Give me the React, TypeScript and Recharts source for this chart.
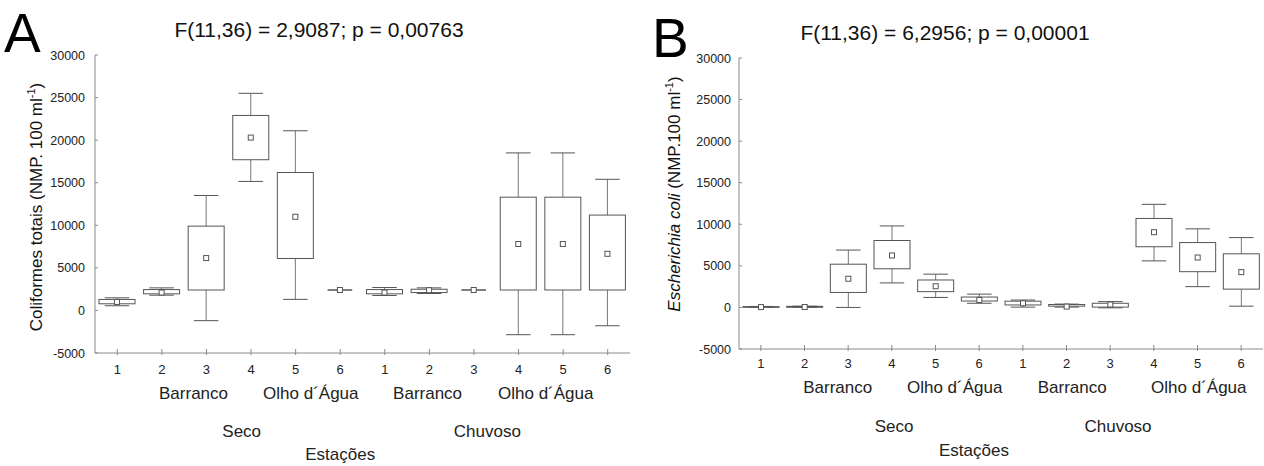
import { Bar, ComposedChart, XAxis, YAxis } from 'recharts'

const FONT = '"Liberation Sans", Arial, sans-serif'

const stations = ['1', '2', '3', '4', '5', '6']
const seasons = ['Seco', 'Chuvoso']
const categories = seasons.flatMap((s) => stations.map((st) => `${s}-${st}`))
const yTicks = [-5000, 0, 5000, 10000, 15000, 20000, 25000, 30000]

// A: Coliformes totais
const coliMin = [550, 1790, -1200, 15150, 1300, 2400, 1750, 1990, 2400, -2850, -2850, -1800]
const coliQ1 = [780, 1950, 2400, 17700, 6100, 2400, 1950, 2100, 2400, 2400, 2400, 2400]
const coliMean = [1000, 2100, 6150, 20300, 11000, 2400, 2100, 2380, 2400, 7800, 7800, 6650]
const coliQ3 = [1290, 2450, 9900, 22900, 16200, 2400, 2450, 2490, 2400, 13300, 13300, 11200]
const coliMax = [1480, 2650, 13500, 25500, 21100, 2400, 2690, 2650, 2400, 18500, 18500, 15400]

// B: Escherichia coli
const ecoliMin = [0, 0, 0, 2950, 1200, 500, 40, 40, -50, 5600, 2500, 150]
const ecoliQ1 = [10, 20, 1800, 4650, 1900, 770, 300, 150, 40, 7300, 4300, 2200]
const ecoliMean = [40, 50, 3450, 6250, 2550, 900, 500, 100, 350, 9050, 6000, 4250]
const ecoliQ3 = [100, 130, 5200, 8050, 3300, 1250, 750, 350, 500, 10700, 7800, 6450]
const ecoliMax = [120, 150, 6900, 9800, 4000, 1600, 890, 400, 700, 12400, 9450, 8400]

type Row = {
  key: string
  min: number
  q1: number
  mean: number
  q3: number
  max: number
  range: [number, number]
}

function buildRows(min: number[], q1: number[], mean: number[], q3: number[], max: number[]): Row[] {
  return categories.map((key, i) => ({
    key,
    min: min[i],
    q1: q1[i],
    mean: mean[i],
    q3: q3[i],
    max: max[i],
    range: [min[i], max[i]],
  }))
}

const coliRows = buildRows(coliMin, coliQ1, coliMean, coliQ3, coliMax)
const ecoliRows = buildRows(ecoliMin, ecoliQ1, ecoliMean, ecoliQ3, ecoliMax)

const BOX = '#555'
const WHISK = '#777'
const FRAME = '#8a8a8a'

function BoxShape(props: any) {
  const { x, y, width, height, payload } = props
  const top = Math.min(y, y + height)
  const bottom = Math.max(y, y + height)
  const span = payload.max - payload.min
  const py = (v: number) => (span === 0 ? top : bottom - ((v - payload.min) / span) * (bottom - top))
  const cx = x + width / 2
  const cap = width * 0.68
  const y1 = py(payload.q1)
  const y3 = py(payload.q3)
  const ym = py(payload.mean)
  return (
    <g>
      <line x1={cx} x2={cx} y1={top} y2={y3} stroke={WHISK} />
      <line x1={cx} x2={cx} y1={y1} y2={bottom} stroke={WHISK} />
      <line x1={cx - cap / 2} x2={cx + cap / 2} y1={top} y2={top} stroke={BOX} />
      <line x1={cx - cap / 2} x2={cx + cap / 2} y1={bottom} y2={bottom} stroke={BOX} />
      <rect x={x} y={y3} width={width} height={Math.max(y1 - y3, 0)} fill="#fff" stroke={BOX} />
      <rect x={cx - 2.5} y={ym - 2.5} width={5} height={5} fill="#fff" stroke={BOX} />
    </g>
  )
}

type GroupLabel = { text: string; index: number; dx: number; row: number }

// rows: 0 station number, 1 site, 2 season, 3 axis title
const rowLabelsA: GroupLabel[] = [
  { text: 'Barranco', index: 2, dx: -0.29, row: 1 },
  { text: 'Olho d´Água', index: 4, dx: 0.34, row: 1 },
  { text: 'Barranco', index: 7, dx: -0.04, row: 1 },
  { text: 'Olho d´Água', index: 9, dx: 0.61, row: 1 },
  { text: 'Seco', index: 3, dx: -0.21, row: 2 },
  { text: 'Chuvoso', index: 8, dx: 0.3, row: 2 },
  { text: 'Estações', index: 5, dx: 0, row: 3 },
]
const rowLabelsB: GroupLabel[] = [
  { text: 'Barranco', index: 2, dx: -0.24, row: 1 },
  { text: 'Olho d´Água', index: 4, dx: 0.44, row: 1 },
  { text: 'Barranco', index: 7, dx: 0.13, row: 1 },
  { text: 'Olho d´Água', index: 10, dx: 0.03, row: 1 },
  { text: 'Seco', index: 3, dx: 0.05, row: 2 },
  { text: 'Chuvoso', index: 8, dx: 0.18, row: 2 },
  { text: 'Estações', index: 5, dx: -0.12, row: 3 },
]

function makeBottomTick(labels: GroupLabel[], band: number, rowY: number[]) {
  return (props: any) => {
    const { x, y, payload, index } = props
    const station = String(payload.value).split('-')[1]
    return (
      <g>
        <line x1={x} x2={x} y1={y - 4} y2={y + 2} stroke={FRAME} />
        <text x={x} y={y + rowY[0]} dy="0.36em" textAnchor="middle" fontSize={13} fill="#222" fontFamily={FONT}>
          {station}
        </text>
        {labels
          .filter((l) => l.index === index)
          .map((l) => (
            <text
              key={l.text + l.row}
              x={x + l.dx * band}
              y={y + rowY[l.row]}
              dy="0.36em"
              textAnchor="middle"
              fontSize={17}
              fill="#222"
              fontFamily={FONT}
            >
              {l.text}
            </text>
          ))}
      </g>
    )
  }
}

function TopTick(props: any) {
  const { x, y } = props
  return <line x1={x} x2={x} y1={y} y2={y + 4} stroke={FRAME} />
}

function RightTick(props: any) {
  const { x, y } = props
  return <line x1={x} x2={x - 4} y1={y} y2={y} stroke={FRAME} />
}

function makeLeftTick(gap: number) {
  return (props: any) => {
    const { x, y, payload } = props
    return (
      <g>
        <line x1={x} x2={x + 3} y1={y} y2={y} stroke={FRAME} />
        <text x={x - gap} y={y} dy="0.36em" textAnchor="end" fontSize={12.5} fill="#222" fontFamily={FONT}>
          {payload.value}
        </text>
      </g>
    )
  }
}

type PanelProps = {
  rows: Row[]
  left: number
  width: number
  top: number
  plotBottom: number
  yAxisWidth: number
  rightMargin: number
  labels: GroupLabel[]
  rowY: number[]
  tickGap: number
}

function Panel({ rows, left, width, top, plotBottom, yAxisWidth, rightMargin, labels, rowY, tickGap }: PanelProps) {
  const band = (width - yAxisWidth - rightMargin) / categories.length
  return (
    <div style={{ position: 'absolute', left, top: 0 }}>
      <ComposedChart width={width} height={466} data={rows} margin={{ top, right: rightMargin, bottom: 0, left: 0 }}>
        <XAxis
          dataKey="key"
          height={466 - plotBottom}
          interval={0}
          tickSize={0}
          tickMargin={0}
          tickLine={false}
          axisLine={{ stroke: FRAME }}
          tick={makeBottomTick(labels, band, rowY)}
        />
        <XAxis
          xAxisId="top"
          dataKey="key"
          orientation="top"
          height={0}
          interval={0}
          tickSize={0}
          tickMargin={0}
          tickLine={false}
          axisLine={{ stroke: FRAME }}
          tick={TopTick}
        />
        <YAxis
          type="number"
          width={yAxisWidth}
          domain={[-5000, 30000]}
          ticks={yTicks}
          interval={0}
          tickSize={0}
          tickMargin={0}
          tickLine={false}
          axisLine={{ stroke: FRAME }}
          tick={makeLeftTick(tickGap)}
          allowDataOverflow
        />
        <YAxis
          yAxisId="right"
          type="number"
          orientation="right"
          width={0}
          domain={[-5000, 30000]}
          ticks={yTicks}
          interval={0}
          tickSize={0}
          tickMargin={0}
          tickLine={false}
          axisLine={{ stroke: FRAME }}
          tick={RightTick}
          allowDataOverflow
        />
        <Bar dataKey="range" barSize={36} shape={BoxShape} isAnimationActive={false} />
      </ComposedChart>
    </div>
  )
}

export default function App() {
  return (
    <div style={{ position: 'absolute', left: 0, top: 0, width: 1264, height: 466, background: '#fff' }}>
      <Panel
        rows={coliRows}
        left={0}
        width={632}
        top={55}
        plotBottom={353}
        yAxisWidth={95}
        rightMargin={2}
        labels={rowLabelsA}
        rowY={[16, 40, 78, 101]}
        tickGap={10}
      />
      <Panel
        rows={ecoliRows}
        left={632}
        width={632}
        top={58}
        plotBottom={349}
        yAxisWidth={107}
        rightMargin={1}
        labels={rowLabelsB}
        rowY={[14, 38, 77, 101]}
        tickGap={8}
      />
      <svg
        width={1264}
        height={466}
        style={{ position: 'absolute', left: 0, top: 0, pointerEvents: 'none' }}
        fontFamily={FONT}
      >
        <text x={4} y={52} fontSize={55} fill="#000">A</text>
        <text x={652} y={57} fontSize={55} fill="#000">B</text>
        <text x={319} y={37} fontSize={21} textAnchor="middle" fill="#111">
          F(11,36) = 2,9087; p = 0,00763
        </text>
        <text x={945} y={40} fontSize={21} textAnchor="middle" fill="#111">
          F(11,36) = 6,2956; p = 0,00001
        </text>
        <text transform="translate(42,207) rotate(-90)" textAnchor="middle" fontSize={17} fill="#111">
          Coliformes totais (NMP. 100 ml
          <tspan fontSize={11} dy={-7}>-1</tspan>
          <tspan dy={7}>)</tspan>
        </text>
        <text transform="translate(680,194) rotate(-90)" textAnchor="middle" fontSize={17} fill="#111">
          <tspan fontStyle="italic">Escherichia coli</tspan> (NMP.100 ml
          <tspan fontSize={11} dy={-7}>-1</tspan>
          <tspan dy={7}>)</tspan>
        </text>
      </svg>
    </div>
  )
}
